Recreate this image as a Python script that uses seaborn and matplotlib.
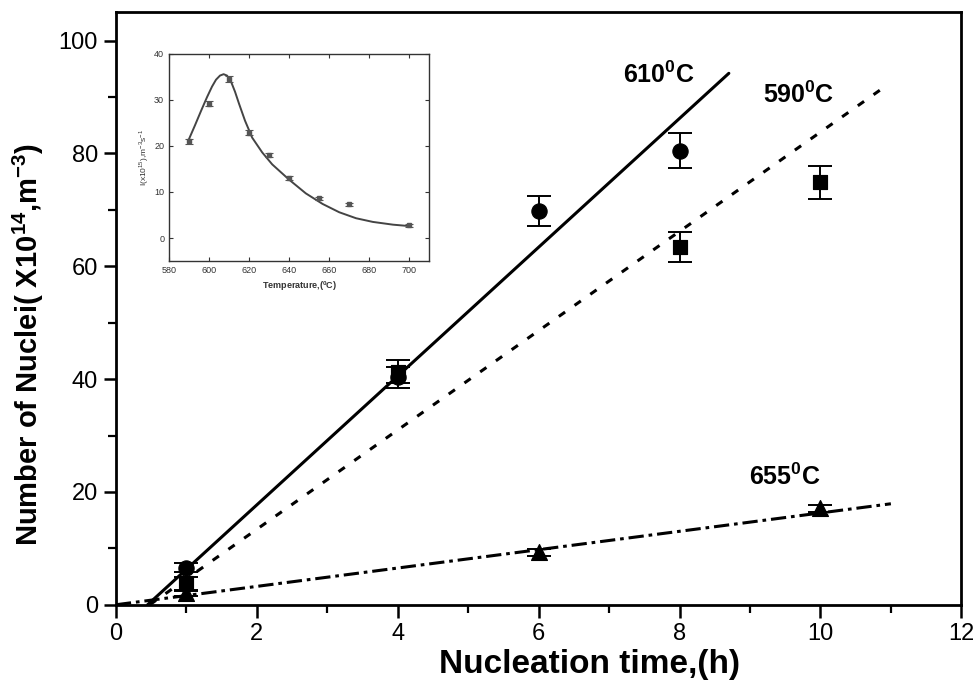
import matplotlib
matplotlib.use("Agg")
import matplotlib.pyplot as plt
import numpy as np
import seaborn as sns

# ── main panel data ─────────────────────────────────────────────
t610 = [1, 4, 6, 8]
n610 = [6.6, 40.3, 69.8, 80.5]
e610 = [0.8, 1.8, 2.7, 3.1]

t590 = [1, 4, 8, 10]
n590 = [3.8, 41.3, 63.4, 74.9]
e590 = [1.2, 2.0, 2.6, 2.9]

t655 = [1, 6, 10]
n655 = [2.0, 9.3, 17.1]
e655 = [0.5, 0.6, 0.6]

# fitted lines (end points)
fit610_t = [0.45, 8.7]
fit610_n = [0.0, 94.2]
fit590_t = [0.48, 10.9]
fit590_n = [0.0, 91.7]
fit655_t = [0.0, 11.0]
fit655_n = [0.0, 17.9]

# ── inset data ──────────────────────────────────────────────────
temp_pts = [590, 600, 610, 620, 630, 640, 655, 670, 700]
rate_pts = [21.0, 29.2, 34.6, 22.9, 18.0, 13.0, 8.6, 7.3, 2.8]
rate_err = [0.5, 0.6, 0.6, 0.5, 0.5, 0.4, 0.4, 0.3, 0.3]

curve_t = [590, 593, 596, 599, 601.5, 603.5, 605.5, 607.3, 609, 611, 613,
           615, 618, 621.6, 626.6, 631.6, 640, 648.4, 656.8, 665.1, 673.5,
           681.9, 692, 700]
curve_r = [21.5, 24.5, 27.6, 30.6, 32.9, 34.4, 35.3, 35.6, 35.3, 34.0, 31.8,
           29.2, 25.5, 21.8, 18.6, 16.0, 12.7, 9.7, 7.4, 5.6, 4.3,
           3.5, 2.9, 2.6]

sns.set_theme(style="ticks")
plt.rcParams["font.family"] = ["Liberation Sans", "DejaVu Sans"]
plt.rcParams["mathtext.fontset"] = "custom"
plt.rcParams["mathtext.rm"] = "Liberation Sans"
plt.rcParams["mathtext.bf"] = "Liberation Sans:bold"
plt.rcParams["text.color"] = "black"
plt.rcParams["axes.labelcolor"] = "black"
plt.rcParams["xtick.color"] = "black"
plt.rcParams["ytick.color"] = "black"

fig = plt.figure(figsize=(9.74, 6.88), dpi=100)
ax = fig.add_axes([0.119, 0.121, 0.868, 0.861])

# fit lines
sns.lineplot(x=fit610_t, y=fit610_n, ax=ax, color="black", lw=2.2)
sns.lineplot(x=fit590_t, y=fit590_n, ax=ax, color="black", lw=2.2,
             linestyle=(0, (2.5, 3.8)))
sns.lineplot(x=fit655_t, y=fit655_n, ax=ax, color="black", lw=2.2,
             linestyle=(0, (5, 1.6, 1.2, 1.6)))

# error bars + markers
err_kw = dict(fmt="none", ecolor="black", elinewidth=1.4, capsize=8.5,
              capthick=1.4, zorder=3)
ax.errorbar(t610, n610, yerr=e610, **err_kw)
ax.errorbar(t590, n590, yerr=e590, **err_kw)
ax.errorbar(t655, n655, yerr=e655, **err_kw)
sns.scatterplot(x=t610, y=n610, ax=ax, marker="o", s=120, color="black",
                edgecolor="black", zorder=4)
sns.scatterplot(x=t590, y=n590, ax=ax, marker="s", s=110, color="black",
                edgecolor="black", zorder=4)
sns.scatterplot(x=t655, y=n655, ax=ax, marker="^", s=130, color="black",
                edgecolor="black", zorder=4)

ax.set_xlim(0, 12)
ax.set_ylim(0, 105)
ax.set_xticks(np.arange(0, 13, 2))
ax.set_xticks(np.arange(1, 12, 2), minor=True)
ax.set_yticks(np.arange(0, 101, 20))
ax.set_yticks(np.arange(10, 100, 20), minor=True)
ax.tick_params(which="major", direction="out", length=9, width=1.8,
               labelsize=17, pad=4)
ax.tick_params(which="minor", direction="out", length=6, width=1.6)
for s in ax.spines.values():
    s.set_linewidth(2.0)
    s.set_color("black")
    s.set_visible(True)

ax.set_xlabel("Nucleation time,(h)", fontsize=24, fontweight="bold")
ax.xaxis.set_label_coords(0.56, -0.075)
ax.set_ylabel(r"Number of Nuclei( X10$^{\mathbf{14}}$,m$^{\mathbf{-3}}$)",
              fontsize=21, fontweight="bold")
ax.yaxis.set_label_coords(-0.083, 0.44)

ax.text(7.2, 92.4, r"610$^{\mathbf{0}}$C", fontsize=18, fontweight="bold")
ax.text(9.18, 89.0, r"590$^{\mathbf{0}}$C", fontsize=18, fontweight="bold")
ax.text(8.98, 21.2, r"655$^{\mathbf{0}}$C", fontsize=18, fontweight="bold")

# ── inset ───────────────────────────────────────────────────────
ins = fig.add_axes([0.1735, 0.6206, 0.267, 0.301])
sns.lineplot(x=curve_t, y=curve_r, ax=ins, color="#444444", lw=1.4)
ins.errorbar(temp_pts, rate_pts, yerr=rate_err, fmt="s", ms=3, color="#555555",
             ecolor="#555555", elinewidth=0.8, capsize=3, capthick=0.8)
ins.set_xlim(580, 710)
ins.set_ylim(-5, 40)
ins.set_xticks(np.arange(580, 701, 20))
ins.set_yticks(np.arange(0, 41, 10))
ins.tick_params(direction="in", length=3, width=0.8, labelsize=6.5,
                top=True, right=True, colors="#333333")
for s in ins.spines.values():
    s.set_linewidth(1.0)
    s.set_color("#333333")
ins.set_xlabel(r"Temperature,($^{\mathbf{0}}$C)", fontsize=6.5,
               fontweight="bold", labelpad=3, color="#333333")
ins.set_ylabel(r"I(x10$^{15}$),m$^{-3}$s$^{-1}$", fontsize=6, labelpad=2,
               color="#333333")

fig.savefig("out.png", dpi=100)
